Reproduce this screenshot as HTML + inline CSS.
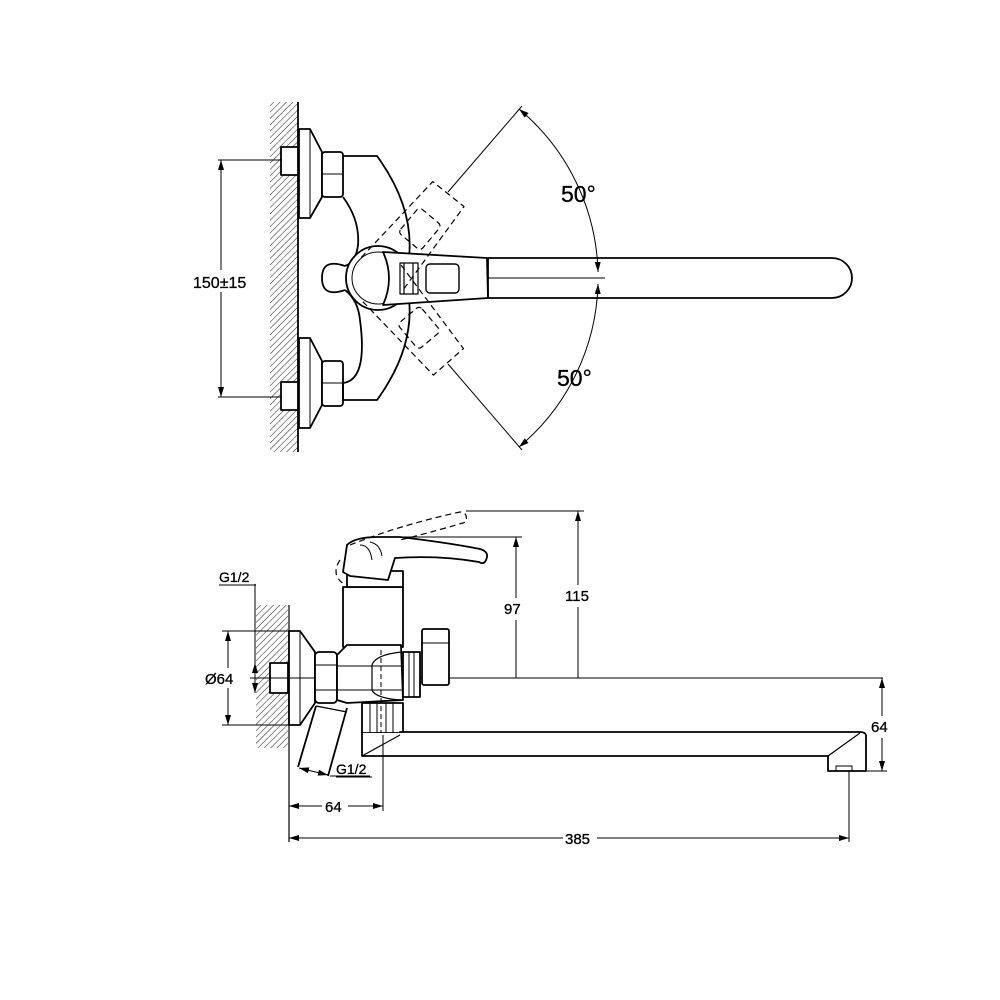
<!DOCTYPE html>
<html><head><meta charset="utf-8"><style>html,body{margin:0;padding:0;background:#fff}svg{display:block}</style></head>
<body>
<svg width="1000" height="1000" viewBox="0 0 1000 1000" xmlns="http://www.w3.org/2000/svg" font-family="Liberation Sans, Arial, sans-serif">
<defs>
<pattern id="h" width="4.5" height="4.5" patternUnits="userSpaceOnUse" patternTransform="rotate(45)">
<line x1="0" y1="0" x2="0" y2="4.5" stroke="#222" stroke-width="1"/></pattern>
<marker id="a" viewBox="0 0 10 6" refX="10" refY="3" markerWidth="10" markerHeight="6" orient="auto-start-reverse" markerUnits="userSpaceOnUse"><path d="M0,0 L10,3 L0,6z" fill="#000"/></marker>
</defs>
<g fill="none" stroke="#000" stroke-width="1.8" stroke-linejoin="round">
<!-- TOP VIEW -->
<rect x="270" y="102" width="28" height="350" fill="url(#h)" stroke="none"/>
<line x1="298" y1="102" x2="298" y2="452"/>
<rect x="281" y="147" width="17" height="28" fill="#fff"/>
<rect x="281" y="382" width="17" height="28" fill="#fff"/>
<path d="M299,129 H310 L322,152 V197 L310,218 H299 Z" fill="#fff"/>
<line x1="310" y1="129" x2="310" y2="218" stroke-width="1"/>
<path d="M299,338 H310 L322,361 V405 L310,428 H299 Z" fill="#fff"/>
<line x1="310" y1="338" x2="310" y2="428" stroke-width="1"/>
<rect x="322" y="152" width="21" height="45" rx="3" fill="#fff"/>
<path d="M322,174 L343,174" stroke-width="1"/>
<rect x="322" y="361" width="21" height="45" rx="3" fill="#fff"/>
<path d="M322,383 L343,383" stroke-width="1"/>
<!-- body -->
<path d="M343,156 H377 Q422,218 405,278 Q422,338 377,400 H343 V383 Q368,380 360,320 Q358,300 345,290 M343,197 Q360,220 358,245 Q356,262 345,266"/>
<path d="M345,266 Q322,258 322,278 Q322,298 345,290" fill="#fff"/>
<circle cx="378" cy="278" r="32" fill="#fff"/>
<circle cx="378" cy="278" r="26" stroke-width="1"/>
<!-- spout -->
<path d="M488,258 H832 A20,20 0 0 1 832,298 H488 Z" fill="#fff"/>
<line x1="488" y1="278" x2="605" y2="278" stroke-width="1"/>
<!-- lever -->
<path d="M383,252 L487,258 L488,298 L383,305 Q395,278 383,252 Z" fill="#fff"/>
<rect x="426" y="264" width="33" height="29" rx="4" stroke-width="1.4"/>
<path d="M400,263 H418 V294 H400 Z M404,263 V294 M413,263 V294" stroke-width="1.2"/>
<!-- dashed rotated levers -->
<g stroke-dasharray="6,4" stroke-width="1.2">
<path d="M383,252 L487,258 L488,298 L383,305" transform="rotate(-50 378 278)"/>
<rect x="426" y="264" width="33" height="29" rx="4" transform="rotate(-50 378 278)"/>
<path d="M383,252 L487,258 L488,298 L383,305" transform="rotate(50 378 278)"/>
<rect x="426" y="264" width="33" height="29" rx="4" transform="rotate(50 378 278)"/>
</g>
<!-- angle dims -->
<g stroke-width="1">
<line x1="448" y1="192" x2="522" y2="106"/>
<line x1="448" y1="364" x2="522" y2="450"/>
<path d="M519,109 A220,220 0 0 1 598,272" marker-start="url(#a)" marker-end="url(#a)"/>
<path d="M598,284 A220,220 0 0 1 519,447" marker-start="url(#a)" marker-end="url(#a)"/>
<line x1="221" y1="160" x2="221" y2="397" marker-start="url(#a)" marker-end="url(#a)"/>
<line x1="218" y1="160" x2="282" y2="160"/>
<line x1="218" y1="397" x2="282" y2="397"/>
</g>
<!-- BOTTOM VIEW -->
<rect x="256" y="605" width="32" height="143" fill="url(#h)" stroke="none"/>
<line x1="289" y1="605" x2="289" y2="842" stroke-width="1.2"/>
<rect x="270" y="663" width="18" height="30" fill="#fff"/>
<path d="M289,631 H300 L315,652 V703 L300,725 H289 Z" fill="#fff"/>
<line x1="300" y1="631" x2="300" y2="725" stroke-width="1"/>
<line x1="250" y1="678" x2="883" y2="678" stroke-width="1"/>
<!-- diverter pipe -->
<path d="M316,706 L298,767 M347,708 L328,776"/>
<path d="M316,706 L347,712" stroke-width="1.2"/>
<!-- nut -->
<rect x="315" y="652" width="22" height="51" rx="4" fill="#fff"/>
<path d="M315,665 H337 M315,690 H337" stroke-width="1"/>
<!-- column -->
<rect x="343" y="587" width="60" height="60" fill="#fff"/>
<!-- valve body -->
<path d="M337,655 L347,645 H401 L403,700 L347,703 L337,700 Z" fill="#fff"/>
<path d="M337,666 H403 M337,690 H403" stroke-width="1"/>
<path d="M401,652 Q375,655 372,665 V690 Q375,698 401,700" stroke-width="1.2"/>
<!-- right connector -->
<rect x="403" y="652" width="17" height="45" fill="#fff"/>
<rect x="409" y="652" width="5" height="45" stroke-width="1"/>
<rect x="422" y="629" width="27" height="56" rx="2" fill="#fff"/>
<line x1="422" y1="643" x2="449" y2="643" stroke-width="1"/>
<!-- bottom connector -->
<rect x="362" y="703" width="41" height="30" fill="#fff"/>
<path d="M370,703 V733 M377,703 V733 M386,703 V733 M393,703 V733" stroke-width="1"/>
<line x1="381" y1="650" x2="381" y2="755" stroke-dasharray="5,3" stroke-width="1"/>
<!-- spout -->
<path d="M362,733 V756 H828 V771 H866 V735 Q865,732 860,732 H400 V733" fill="#fff"/>
<path d="M362,756 L400,735 M828,756 L860,733" stroke-width="1.2"/>
<path d="M836,771 V766 H852 V771" stroke-width="1"/>
<!-- handle -->
<path d="M347,571 H403 V587 H347 Z" fill="#fff"/>
<path d="M347,545 Q355,537 378,537 H400 Q450,543 480,549 Q490,552 486,560 Q484,565 479,562 Q440,555 395,558 L388,580 L350,576 L343,572 Z" fill="#fff"/>
<path d="M360,545 Q370,545 372,560 M370,542 Q380,544 382,556" stroke-width="1"/>
<path d="M340,560 Q330,575 345,585 M350,545 Q400,525 460,512 Q468,512 466,522 Q440,530 400,540" stroke-dasharray="6,4" stroke-width="1.2"/>
<!-- dims bottom -->
<g stroke-width="1">
<line x1="255" y1="584" x2="255" y2="663"/>
<line x1="255" y1="663" x2="255" y2="693" marker-start="url(#a)" marker-end="url(#a)"/>
<line x1="228" y1="631" x2="228" y2="725" marker-start="url(#a)" marker-end="url(#a)"/>
<line x1="222" y1="631" x2="292" y2="631"/>
<line x1="222" y1="725" x2="292" y2="725"/>
<line x1="299" y1="768" x2="328" y2="775" marker-start="url(#a)" marker-end="url(#a)"/>
<line x1="330" y1="776" x2="370" y2="776"/>
<line x1="383" y1="735" x2="383" y2="811"/>
<line x1="289" y1="806" x2="383" y2="806" marker-start="url(#a)" marker-end="url(#a)"/>
<line x1="849" y1="771" x2="849" y2="842"/>
<line x1="289" y1="838" x2="849" y2="838" marker-start="url(#a)" marker-end="url(#a)"/>
<line x1="866" y1="771" x2="887" y2="771"/>
<line x1="882" y1="678" x2="882" y2="771" marker-start="url(#a)" marker-end="url(#a)"/>
<line x1="395" y1="537" x2="522" y2="537"/>
<line x1="516" y1="537" x2="516" y2="678" marker-start="url(#a)"/>
<line x1="466" y1="511" x2="584" y2="511"/>
<line x1="578" y1="511" x2="578" y2="678" marker-start="url(#a)"/>
</g>
</g>
<!-- text backgrounds -->
<g fill="#fff" stroke="none">
<rect x="192" y="270" width="72" height="22"/>
<rect x="202" y="668" width="36" height="20"/>
<rect x="502" y="598" width="26" height="22"/>
<rect x="563" y="585" width="34" height="22"/>
<rect x="869" y="716" width="26" height="22"/>
<rect x="322" y="796" width="26" height="20"/>
<rect x="563" y="828" width="34" height="20"/>
</g>
<g fill="#000" stroke="#000" stroke-width="0.3">
<text x="561" y="202" font-size="23">50°</text>
<text x="557" y="386" font-size="23">50°</text>
<text x="193" y="288" font-size="16">150±15</text>
<text x="219" y="582" font-size="14">G1/2</text>
<text x="336" y="774" font-size="14">G1/2</text>
<text x="205" y="684" font-size="15">Ø64</text>
<text x="504" y="614" font-size="15">97</text>
<text x="565" y="601" font-size="15">115</text>
<text x="871" y="732" font-size="15">64</text>
<text x="325" y="812" font-size="15">64</text>
<text x="565" y="844" font-size="15">385</text>
</g>
<g stroke="#000" stroke-width="1">
<line x1="219" y1="585" x2="256" y2="585"/>
<line x1="336" y1="777" x2="372" y2="777"/>
</g>
</svg>
</body></html>
